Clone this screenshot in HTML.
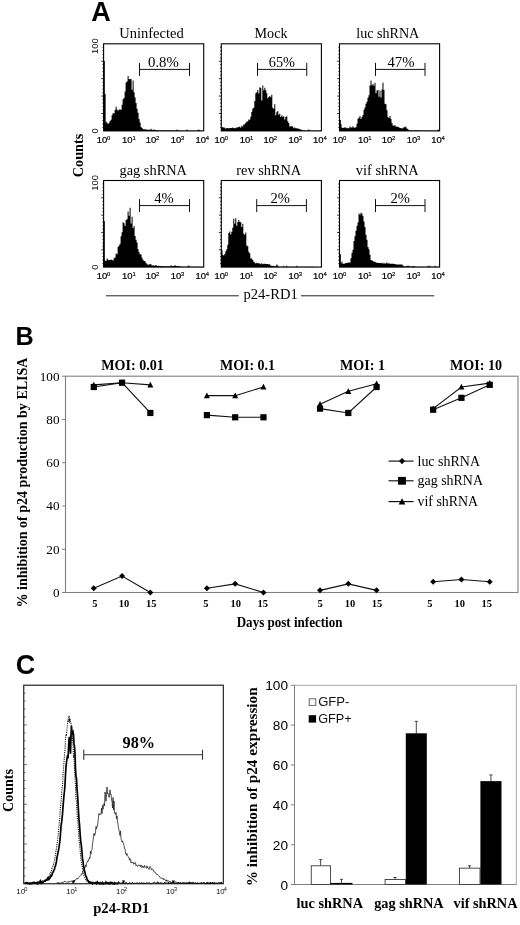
<!DOCTYPE html>
<html><head><meta charset="utf-8"><title>Figure</title>
<style>html,body{margin:0;padding:0;background:#fff;}svg{display:block;will-change:transform;filter:blur(0.3px);}</style></head>
<body>
<svg width="520" height="925" viewBox="0 0 520 925">
<rect width="520" height="925" fill="#fff"/>
<text x="91.3" y="20.8" font-family="Liberation Sans, sans-serif" font-size="27" font-weight="bold">A</text>
<path d="M103.60,130.90L103.60,130.90L104.60,130.90L104.60,122.49L105.60,122.49L105.60,121.40L106.60,121.40L106.60,122.71L107.60,122.71L107.60,124.12L108.60,124.12L108.60,122.79L109.60,122.79L109.60,121.12L110.60,121.12L110.60,119.87L111.60,119.87L111.60,115.23L112.60,115.23L112.60,113.09L113.60,113.09L113.60,113.61L114.60,113.61L114.60,109.97L115.60,109.97L115.60,106.77L116.60,106.77L116.60,109.47L117.60,109.47L117.60,110.76L118.60,110.76L118.60,109.58L119.60,109.58L119.60,109.59L120.60,109.59L120.60,109.78L121.60,109.78L121.60,104.79L122.60,104.79L122.60,99.31L123.60,99.31L123.60,97.92L124.60,97.92L124.60,91.58L125.60,91.58L125.60,82.58L126.60,82.58L126.60,81.49L127.60,81.49L127.60,76.01L128.60,76.01L128.60,79.08L129.60,79.08L129.60,79.13L130.60,79.13L130.60,78.95L131.60,78.95L131.60,89.77L132.60,89.77L132.60,80.56L133.60,80.56L133.60,92.35L134.60,92.35L134.60,97.48L135.60,97.48L135.60,103.01L136.60,103.01L136.60,108.68L137.60,108.68L137.60,112.64L138.60,112.64L138.60,119.09L139.60,119.09L139.60,122.54L140.60,122.54L140.60,126.98L141.60,126.98L141.60,127.88L142.60,127.88L142.60,128.88L143.60,128.88L143.60,129.49L144.60,129.49L144.60,129.05L145.60,129.05L145.60,129.80L146.60,129.80L146.60,129.53L147.60,129.53L147.60,129.69L148.60,129.69L148.60,129.75L149.60,129.75L149.60,129.74L150.60,129.74L150.60,128.74L151.60,128.74L151.60,130.15L152.60,130.15L152.60,129.76L153.60,129.76L153.60,129.58L154.60,129.58L154.60,130.00L155.60,130.00L155.60,130.22L156.60,130.22L156.60,130.32L157.60,130.32L157.60,130.32L158.60,130.32L158.60,130.47L159.60,130.47L159.60,130.51L160.60,130.51L160.60,130.54L161.60,130.54L161.60,130.53L162.60,130.53L162.60,130.58L163.60,130.58L163.60,130.60L164.60,130.60L164.60,130.62L165.60,130.62L165.60,130.57L166.60,130.57L166.60,130.62L167.60,130.62L167.60,130.61L168.60,130.61L168.60,130.59L169.60,130.59L169.60,130.60L170.60,130.60L170.60,130.61L171.60,130.61L171.60,130.60L172.60,130.60L172.60,130.64L173.60,130.64L173.60,130.61L174.60,130.61L174.60,130.65L175.60,130.65L175.60,130.62L176.60,130.62L176.60,129.60L177.60,129.60L177.60,130.61L178.60,130.61L178.60,130.62L179.60,130.62L179.60,130.64L180.60,130.64L180.60,130.62L181.60,130.62L181.60,130.65L182.60,130.65L182.60,130.65L183.60,130.65L183.60,130.63L184.60,130.63L184.60,130.66L185.60,130.66L185.60,130.66L186.60,130.66L186.60,129.61L187.60,129.61L187.60,130.67L188.60,130.67L188.60,130.68L189.60,130.68L189.60,130.66L190.60,130.66L190.60,130.66L191.60,130.66L191.60,130.66L192.60,130.66L192.60,130.66L193.60,130.66L193.60,130.65L194.60,130.65L194.60,130.66L195.60,130.66L195.60,130.67L196.60,130.67L196.60,130.68L197.60,130.68L197.60,129.65L198.60,129.65L198.60,129.66L199.60,129.66L199.60,130.68L200.60,130.68L200.60,130.69L201.60,130.69L201.60,130.70L202.60,130.70L202.60,130.69L203.60,130.69L203.60,130.69L204.60,130.69L203.70,130.90Z" fill="#000"/>
<rect x="103.60" y="60.90" width="1.2" height="70" fill="#000"/>
<rect x="103.60" y="93.90" width="2" height="37" fill="#000"/>
<rect x="103.6" y="43.8" width="100.10" height="87.10" fill="none" stroke="#000" stroke-width="1.1"/>
<line x1="102.39999999999999" y1="127.42" x2="103.6" y2="127.42" stroke="#000" stroke-width="0.8"/>
<line x1="102.39999999999999" y1="123.93" x2="103.6" y2="123.93" stroke="#000" stroke-width="0.8"/>
<line x1="102.39999999999999" y1="120.45" x2="103.6" y2="120.45" stroke="#000" stroke-width="0.8"/>
<line x1="102.39999999999999" y1="116.96" x2="103.6" y2="116.96" stroke="#000" stroke-width="0.8"/>
<line x1="101.19999999999999" y1="113.48" x2="103.6" y2="113.48" stroke="#000" stroke-width="0.8"/>
<line x1="102.39999999999999" y1="110.00" x2="103.6" y2="110.00" stroke="#000" stroke-width="0.8"/>
<line x1="102.39999999999999" y1="106.51" x2="103.6" y2="106.51" stroke="#000" stroke-width="0.8"/>
<line x1="102.39999999999999" y1="103.03" x2="103.6" y2="103.03" stroke="#000" stroke-width="0.8"/>
<line x1="102.39999999999999" y1="99.54" x2="103.6" y2="99.54" stroke="#000" stroke-width="0.8"/>
<line x1="101.19999999999999" y1="96.06" x2="103.6" y2="96.06" stroke="#000" stroke-width="0.8"/>
<line x1="102.39999999999999" y1="92.58" x2="103.6" y2="92.58" stroke="#000" stroke-width="0.8"/>
<line x1="102.39999999999999" y1="89.09" x2="103.6" y2="89.09" stroke="#000" stroke-width="0.8"/>
<line x1="102.39999999999999" y1="85.61" x2="103.6" y2="85.61" stroke="#000" stroke-width="0.8"/>
<line x1="102.39999999999999" y1="82.12" x2="103.6" y2="82.12" stroke="#000" stroke-width="0.8"/>
<line x1="101.19999999999999" y1="78.64" x2="103.6" y2="78.64" stroke="#000" stroke-width="0.8"/>
<line x1="102.39999999999999" y1="75.16" x2="103.6" y2="75.16" stroke="#000" stroke-width="0.8"/>
<line x1="102.39999999999999" y1="71.67" x2="103.6" y2="71.67" stroke="#000" stroke-width="0.8"/>
<line x1="102.39999999999999" y1="68.19" x2="103.6" y2="68.19" stroke="#000" stroke-width="0.8"/>
<line x1="102.39999999999999" y1="64.70" x2="103.6" y2="64.70" stroke="#000" stroke-width="0.8"/>
<line x1="101.19999999999999" y1="61.22" x2="103.6" y2="61.22" stroke="#000" stroke-width="0.8"/>
<line x1="102.39999999999999" y1="57.74" x2="103.6" y2="57.74" stroke="#000" stroke-width="0.8"/>
<line x1="102.39999999999999" y1="54.25" x2="103.6" y2="54.25" stroke="#000" stroke-width="0.8"/>
<line x1="102.39999999999999" y1="50.77" x2="103.6" y2="50.77" stroke="#000" stroke-width="0.8"/>
<line x1="102.39999999999999" y1="47.28" x2="103.6" y2="47.28" stroke="#000" stroke-width="0.8"/>
<text x="119.25" y="38.1" font-family="Liberation Serif, serif" font-size="14.5" textLength="64.5" lengthAdjust="spacingAndGlyphs">Uninfected</text>
<path d="M139.5,62.900000000000006V75.9M189.5,62.900000000000006V75.9M139.5,69.4H189.5" stroke="#111" stroke-width="1" fill="none"/>
<text x="148" y="67" font-family="Liberation Serif, serif" font-size="14.5" textLength="30.8" lengthAdjust="spacingAndGlyphs">0.8%</text>
<text x="96.8" y="143.1" font-family="Liberation Sans, sans-serif" font-size="8.6" textLength="10.5" lengthAdjust="spacingAndGlyphs" stroke="#000" stroke-width="0.2">10</text>
<text x="107.1" y="139.70000000000002" font-family="Liberation Sans, sans-serif" font-size="5.9" stroke="#000" stroke-width="0.15">0</text>
<text x="122.12" y="143.1" font-family="Liberation Sans, sans-serif" font-size="8.6" textLength="10.5" lengthAdjust="spacingAndGlyphs" stroke="#000" stroke-width="0.2">10</text>
<text x="132.43" y="139.70000000000002" font-family="Liberation Sans, sans-serif" font-size="5.9" stroke="#000" stroke-width="0.15">1</text>
<text x="145.75" y="143.1" font-family="Liberation Sans, sans-serif" font-size="8.6" textLength="10.5" lengthAdjust="spacingAndGlyphs" stroke="#000" stroke-width="0.2">10</text>
<text x="156.05" y="139.70000000000002" font-family="Liberation Sans, sans-serif" font-size="5.9" stroke="#000" stroke-width="0.15">2</text>
<text x="170.77" y="143.1" font-family="Liberation Sans, sans-serif" font-size="8.6" textLength="10.5" lengthAdjust="spacingAndGlyphs" stroke="#000" stroke-width="0.2">10</text>
<text x="181.07" y="139.70000000000002" font-family="Liberation Sans, sans-serif" font-size="5.9" stroke="#000" stroke-width="0.15">3</text>
<text x="195.4" y="143.1" font-family="Liberation Sans, sans-serif" font-size="8.6" textLength="10.5" lengthAdjust="spacingAndGlyphs" stroke="#000" stroke-width="0.2">10</text>
<text x="205.7" y="139.70000000000002" font-family="Liberation Sans, sans-serif" font-size="5.9" stroke="#000" stroke-width="0.15">4</text>
<path d="M221.30,130.90L221.30,127.20L222.30,127.20L222.30,127.27L223.30,127.27L223.30,127.47L224.30,127.47L224.30,127.64L225.30,127.64L225.30,128.66L226.30,128.66L226.30,128.00L227.30,128.00L227.30,127.92L228.30,127.92L228.30,128.51L229.30,128.51L229.30,127.88L230.30,127.88L230.30,127.93L231.30,127.93L231.30,128.02L232.30,128.02L232.30,127.44L233.30,127.44L233.30,128.33L234.30,128.33L234.30,127.89L235.30,127.89L235.30,128.37L236.30,128.37L236.30,127.14L237.30,127.14L237.30,127.59L238.30,127.59L238.30,127.11L239.30,127.11L239.30,126.47L240.30,126.47L240.30,127.78L241.30,127.78L241.30,125.73L242.30,125.73L242.30,126.51L243.30,126.51L243.30,124.50L244.30,124.50L244.30,124.20L245.30,124.20L245.30,122.76L246.30,122.76L246.30,121.74L247.30,121.74L247.30,121.32L248.30,121.32L248.30,119.62L249.30,119.62L249.30,119.85L250.30,119.85L250.30,116.83L251.30,116.83L251.30,111.96L252.30,111.96L252.30,108.50L253.30,108.50L253.30,107.85L254.30,107.85L254.30,101.12L255.30,101.12L255.30,93.16L256.30,93.16L256.30,92.35L257.30,92.35L257.30,89.99L258.30,89.99L258.30,93.47L259.30,93.47L259.30,87.37L260.30,87.37L260.30,87.98L261.30,87.98L261.30,100.52L262.30,100.52L262.30,85.60L263.30,85.60L263.30,90.19L264.30,90.19L264.30,87.81L265.30,87.81L265.30,90.21L266.30,90.21L266.30,93.26L267.30,93.26L267.30,98.20L268.30,98.20L268.30,97.07L269.30,97.07L269.30,95.97L270.30,95.97L270.30,97.15L271.30,97.15L271.30,94.63L272.30,94.63L272.30,107.76L273.30,107.76L273.30,108.63L274.30,108.63L274.30,104.29L275.30,104.29L275.30,115.19L276.30,115.19L276.30,112.30L277.30,112.30L277.30,111.02L278.30,111.02L278.30,114.71L279.30,114.71L279.30,113.79L280.30,113.79L280.30,117.02L281.30,117.02L281.30,115.46L282.30,115.46L282.30,116.65L283.30,116.65L283.30,116.18L284.30,116.18L284.30,119.59L285.30,119.59L285.30,117.09L286.30,117.09L286.30,116.24L287.30,116.24L287.30,121.24L288.30,121.24L288.30,123.03L289.30,123.03L289.30,126.55L290.30,126.55L290.30,126.18L291.30,126.18L291.30,126.08L292.30,126.08L292.30,126.82L293.30,126.82L293.30,128.18L294.30,128.18L294.30,127.60L295.30,127.60L295.30,128.26L296.30,128.26L296.30,128.19L297.30,128.19L297.30,128.48L298.30,128.48L298.30,128.65L299.30,128.65L299.30,129.23L300.30,129.23L300.30,129.49L301.30,129.49L301.30,129.82L302.30,129.82L302.30,130.60L303.30,130.60L303.30,130.62L304.30,130.62L304.30,130.62L305.30,130.62L305.30,130.56L306.30,130.56L306.30,130.70L307.30,130.70L307.30,130.58L308.30,130.58L308.30,129.59L309.30,129.59L309.30,130.61L310.30,130.61L310.30,130.63L311.30,130.63L311.30,130.66L312.30,130.66L312.30,130.69L313.30,130.69L313.30,130.64L314.30,130.64L314.30,130.72L315.30,130.72L315.30,130.65L316.30,130.65L316.30,130.69L317.30,130.69L317.30,130.76L318.30,130.76L318.30,130.75L319.30,130.75L319.30,130.75L320.30,130.75L320.30,130.70L321.30,130.70L321.30,130.71L322.30,130.71L321.40,130.90Z" fill="#000"/>
<rect x="221.3" y="43.8" width="100.10" height="87.10" fill="none" stroke="#000" stroke-width="1.1"/>
<line x1="220.10000000000002" y1="127.42" x2="221.3" y2="127.42" stroke="#000" stroke-width="0.8"/>
<line x1="220.10000000000002" y1="123.93" x2="221.3" y2="123.93" stroke="#000" stroke-width="0.8"/>
<line x1="220.10000000000002" y1="120.45" x2="221.3" y2="120.45" stroke="#000" stroke-width="0.8"/>
<line x1="220.10000000000002" y1="116.96" x2="221.3" y2="116.96" stroke="#000" stroke-width="0.8"/>
<line x1="218.9" y1="113.48" x2="221.3" y2="113.48" stroke="#000" stroke-width="0.8"/>
<line x1="220.10000000000002" y1="110.00" x2="221.3" y2="110.00" stroke="#000" stroke-width="0.8"/>
<line x1="220.10000000000002" y1="106.51" x2="221.3" y2="106.51" stroke="#000" stroke-width="0.8"/>
<line x1="220.10000000000002" y1="103.03" x2="221.3" y2="103.03" stroke="#000" stroke-width="0.8"/>
<line x1="220.10000000000002" y1="99.54" x2="221.3" y2="99.54" stroke="#000" stroke-width="0.8"/>
<line x1="218.9" y1="96.06" x2="221.3" y2="96.06" stroke="#000" stroke-width="0.8"/>
<line x1="220.10000000000002" y1="92.58" x2="221.3" y2="92.58" stroke="#000" stroke-width="0.8"/>
<line x1="220.10000000000002" y1="89.09" x2="221.3" y2="89.09" stroke="#000" stroke-width="0.8"/>
<line x1="220.10000000000002" y1="85.61" x2="221.3" y2="85.61" stroke="#000" stroke-width="0.8"/>
<line x1="220.10000000000002" y1="82.12" x2="221.3" y2="82.12" stroke="#000" stroke-width="0.8"/>
<line x1="218.9" y1="78.64" x2="221.3" y2="78.64" stroke="#000" stroke-width="0.8"/>
<line x1="220.10000000000002" y1="75.16" x2="221.3" y2="75.16" stroke="#000" stroke-width="0.8"/>
<line x1="220.10000000000002" y1="71.67" x2="221.3" y2="71.67" stroke="#000" stroke-width="0.8"/>
<line x1="220.10000000000002" y1="68.19" x2="221.3" y2="68.19" stroke="#000" stroke-width="0.8"/>
<line x1="220.10000000000002" y1="64.70" x2="221.3" y2="64.70" stroke="#000" stroke-width="0.8"/>
<line x1="218.9" y1="61.22" x2="221.3" y2="61.22" stroke="#000" stroke-width="0.8"/>
<line x1="220.10000000000002" y1="57.74" x2="221.3" y2="57.74" stroke="#000" stroke-width="0.8"/>
<line x1="220.10000000000002" y1="54.25" x2="221.3" y2="54.25" stroke="#000" stroke-width="0.8"/>
<line x1="220.10000000000002" y1="50.77" x2="221.3" y2="50.77" stroke="#000" stroke-width="0.8"/>
<line x1="220.10000000000002" y1="47.28" x2="221.3" y2="47.28" stroke="#000" stroke-width="0.8"/>
<text x="254.5" y="38.1" font-family="Liberation Serif, serif" font-size="14.5" textLength="33.0" lengthAdjust="spacingAndGlyphs">Mock</text>
<path d="M257.5,62.900000000000006V75.9M306.75,62.900000000000006V75.9M257.5,69.4H306.75" stroke="#111" stroke-width="1" fill="none"/>
<text x="268.75" y="67" font-family="Liberation Serif, serif" font-size="14.5" textLength="26.2" lengthAdjust="spacingAndGlyphs">65%</text>
<text x="214.5" y="143.1" font-family="Liberation Sans, sans-serif" font-size="8.6" textLength="10.5" lengthAdjust="spacingAndGlyphs" stroke="#000" stroke-width="0.2">10</text>
<text x="224.8" y="139.70000000000002" font-family="Liberation Sans, sans-serif" font-size="5.9" stroke="#000" stroke-width="0.15">0</text>
<text x="239.82" y="143.1" font-family="Liberation Sans, sans-serif" font-size="8.6" textLength="10.5" lengthAdjust="spacingAndGlyphs" stroke="#000" stroke-width="0.2">10</text>
<text x="250.12" y="139.70000000000002" font-family="Liberation Sans, sans-serif" font-size="5.9" stroke="#000" stroke-width="0.15">1</text>
<text x="263.45" y="143.1" font-family="Liberation Sans, sans-serif" font-size="8.6" textLength="10.5" lengthAdjust="spacingAndGlyphs" stroke="#000" stroke-width="0.2">10</text>
<text x="273.75" y="139.70000000000002" font-family="Liberation Sans, sans-serif" font-size="5.9" stroke="#000" stroke-width="0.15">2</text>
<text x="288.47" y="143.1" font-family="Liberation Sans, sans-serif" font-size="8.6" textLength="10.5" lengthAdjust="spacingAndGlyphs" stroke="#000" stroke-width="0.2">10</text>
<text x="298.77" y="139.70000000000002" font-family="Liberation Sans, sans-serif" font-size="5.9" stroke="#000" stroke-width="0.15">3</text>
<text x="313.1" y="143.1" font-family="Liberation Sans, sans-serif" font-size="8.6" textLength="10.5" lengthAdjust="spacingAndGlyphs" stroke="#000" stroke-width="0.2">10</text>
<text x="323.4" y="139.70000000000002" font-family="Liberation Sans, sans-serif" font-size="5.9" stroke="#000" stroke-width="0.15">4</text>
<path d="M339.50,130.90L339.50,120.30L340.50,120.30L340.50,124.05L341.50,124.05L341.50,127.86L342.50,127.86L342.50,127.72L343.50,127.72L343.50,127.98L344.50,127.98L344.50,126.96L345.50,126.96L345.50,128.28L346.50,128.28L346.50,127.63L347.50,127.63L347.50,128.31L348.50,128.31L348.50,128.21L349.50,128.21L349.50,126.42L350.50,126.42L350.50,127.47L351.50,127.47L351.50,127.61L352.50,127.61L352.50,126.29L353.50,126.29L353.50,127.73L354.50,127.73L354.50,127.53L355.50,127.53L355.50,127.23L356.50,127.23L356.50,123.65L357.50,123.65L357.50,118.81L358.50,118.81L358.50,117.70L359.50,117.70L359.50,115.88L360.50,115.88L360.50,119.05L361.50,119.05L361.50,116.98L362.50,116.98L362.50,114.97L363.50,114.97L363.50,109.71L364.50,109.71L364.50,107.46L365.50,107.46L365.50,103.68L366.50,103.68L366.50,101.80L367.50,101.80L367.50,97.77L368.50,97.77L368.50,95.31L369.50,95.31L369.50,85.53L370.50,85.53L370.50,80.41L371.50,80.41L371.50,85.30L372.50,85.30L372.50,83.89L373.50,83.89L373.50,85.78L374.50,85.78L374.50,82.83L375.50,82.83L375.50,93.20L376.50,93.20L376.50,90.44L377.50,90.44L377.50,90.06L378.50,90.06L378.50,96.72L379.50,96.72L379.50,90.39L380.50,90.39L380.50,97.50L381.50,97.50L381.50,89.38L382.50,89.38L382.50,82.77L383.50,82.77L383.50,90.05L384.50,90.05L384.50,103.75L385.50,103.75L385.50,104.35L386.50,104.35L386.50,110.26L387.50,110.26L387.50,117.09L388.50,117.09L388.50,118.10L389.50,118.10L389.50,116.01L390.50,116.01L390.50,118.98L391.50,118.98L391.50,122.88L392.50,122.88L392.50,125.51L393.50,125.51L393.50,125.70L394.50,125.70L394.50,124.92L395.50,124.92L395.50,126.88L396.50,126.88L396.50,126.31L397.50,126.31L397.50,127.00L398.50,127.00L398.50,127.37L399.50,127.37L399.50,128.12L400.50,128.12L400.50,127.92L401.50,127.92L401.50,128.64L402.50,128.64L402.50,127.68L403.50,127.68L403.50,127.50L404.50,127.50L404.50,126.44L405.50,126.44L405.50,127.22L406.50,127.22L406.50,128.49L407.50,128.49L407.50,129.37L408.50,129.37L408.50,130.52L409.50,130.52L409.50,130.54L410.50,130.54L410.50,130.44L411.50,130.44L411.50,130.47L412.50,130.47L412.50,130.57L413.50,130.57L413.50,130.53L414.50,130.53L414.50,130.57L415.50,130.57L415.50,130.58L416.50,130.58L416.50,130.56L417.50,130.56L417.50,130.52L418.50,130.52L418.50,130.56L419.50,130.56L419.50,130.54L420.50,130.54L420.50,130.65L421.50,130.65L421.50,130.64L422.50,130.64L422.50,130.64L423.50,130.64L423.50,130.63L424.50,130.63L424.50,130.62L425.50,130.62L425.50,130.65L426.50,130.65L426.50,130.66L427.50,130.66L427.50,130.62L428.50,130.62L428.50,130.70L429.50,130.70L429.50,130.63L430.50,130.63L430.50,130.70L431.50,130.70L431.50,130.61L432.50,130.61L432.50,130.71L433.50,130.71L433.50,130.70L434.50,130.70L434.50,130.67L435.50,130.67L435.50,130.73L436.50,130.73L436.50,130.71L437.50,130.71L437.50,129.70L438.50,129.70L438.50,129.63L439.50,129.63L439.50,130.65L440.50,130.65L439.60,130.90Z" fill="#000"/>
<rect x="339.50" y="119.90" width="1.2" height="11" fill="#000"/>
<rect x="339.5" y="43.8" width="100.10" height="87.10" fill="none" stroke="#000" stroke-width="1.1"/>
<line x1="338.3" y1="127.42" x2="339.5" y2="127.42" stroke="#000" stroke-width="0.8"/>
<line x1="338.3" y1="123.93" x2="339.5" y2="123.93" stroke="#000" stroke-width="0.8"/>
<line x1="338.3" y1="120.45" x2="339.5" y2="120.45" stroke="#000" stroke-width="0.8"/>
<line x1="338.3" y1="116.96" x2="339.5" y2="116.96" stroke="#000" stroke-width="0.8"/>
<line x1="337.1" y1="113.48" x2="339.5" y2="113.48" stroke="#000" stroke-width="0.8"/>
<line x1="338.3" y1="110.00" x2="339.5" y2="110.00" stroke="#000" stroke-width="0.8"/>
<line x1="338.3" y1="106.51" x2="339.5" y2="106.51" stroke="#000" stroke-width="0.8"/>
<line x1="338.3" y1="103.03" x2="339.5" y2="103.03" stroke="#000" stroke-width="0.8"/>
<line x1="338.3" y1="99.54" x2="339.5" y2="99.54" stroke="#000" stroke-width="0.8"/>
<line x1="337.1" y1="96.06" x2="339.5" y2="96.06" stroke="#000" stroke-width="0.8"/>
<line x1="338.3" y1="92.58" x2="339.5" y2="92.58" stroke="#000" stroke-width="0.8"/>
<line x1="338.3" y1="89.09" x2="339.5" y2="89.09" stroke="#000" stroke-width="0.8"/>
<line x1="338.3" y1="85.61" x2="339.5" y2="85.61" stroke="#000" stroke-width="0.8"/>
<line x1="338.3" y1="82.12" x2="339.5" y2="82.12" stroke="#000" stroke-width="0.8"/>
<line x1="337.1" y1="78.64" x2="339.5" y2="78.64" stroke="#000" stroke-width="0.8"/>
<line x1="338.3" y1="75.16" x2="339.5" y2="75.16" stroke="#000" stroke-width="0.8"/>
<line x1="338.3" y1="71.67" x2="339.5" y2="71.67" stroke="#000" stroke-width="0.8"/>
<line x1="338.3" y1="68.19" x2="339.5" y2="68.19" stroke="#000" stroke-width="0.8"/>
<line x1="338.3" y1="64.70" x2="339.5" y2="64.70" stroke="#000" stroke-width="0.8"/>
<line x1="337.1" y1="61.22" x2="339.5" y2="61.22" stroke="#000" stroke-width="0.8"/>
<line x1="338.3" y1="57.74" x2="339.5" y2="57.74" stroke="#000" stroke-width="0.8"/>
<line x1="338.3" y1="54.25" x2="339.5" y2="54.25" stroke="#000" stroke-width="0.8"/>
<line x1="338.3" y1="50.77" x2="339.5" y2="50.77" stroke="#000" stroke-width="0.8"/>
<line x1="338.3" y1="47.28" x2="339.5" y2="47.28" stroke="#000" stroke-width="0.8"/>
<text x="356.25" y="38.1" font-family="Liberation Serif, serif" font-size="14.5" textLength="63.0" lengthAdjust="spacingAndGlyphs">luc shRNA</text>
<path d="M375.5,62.900000000000006V75.9M425,62.900000000000006V75.9M375.5,69.4H425" stroke="#111" stroke-width="1" fill="none"/>
<text x="387.5" y="67" font-family="Liberation Serif, serif" font-size="14.5" textLength="27.0" lengthAdjust="spacingAndGlyphs">47%</text>
<text x="332.7" y="143.1" font-family="Liberation Sans, sans-serif" font-size="8.6" textLength="10.5" lengthAdjust="spacingAndGlyphs" stroke="#000" stroke-width="0.2">10</text>
<text x="343.0" y="139.70000000000002" font-family="Liberation Sans, sans-serif" font-size="5.9" stroke="#000" stroke-width="0.15">0</text>
<text x="358.02" y="143.1" font-family="Liberation Sans, sans-serif" font-size="8.6" textLength="10.5" lengthAdjust="spacingAndGlyphs" stroke="#000" stroke-width="0.2">10</text>
<text x="368.32" y="139.70000000000002" font-family="Liberation Sans, sans-serif" font-size="5.9" stroke="#000" stroke-width="0.15">1</text>
<text x="381.65" y="143.1" font-family="Liberation Sans, sans-serif" font-size="8.6" textLength="10.5" lengthAdjust="spacingAndGlyphs" stroke="#000" stroke-width="0.2">10</text>
<text x="391.95" y="139.70000000000002" font-family="Liberation Sans, sans-serif" font-size="5.9" stroke="#000" stroke-width="0.15">2</text>
<text x="406.68" y="143.1" font-family="Liberation Sans, sans-serif" font-size="8.6" textLength="10.5" lengthAdjust="spacingAndGlyphs" stroke="#000" stroke-width="0.2">10</text>
<text x="416.98" y="139.70000000000002" font-family="Liberation Sans, sans-serif" font-size="5.9" stroke="#000" stroke-width="0.15">3</text>
<text x="431.3" y="143.1" font-family="Liberation Sans, sans-serif" font-size="8.6" textLength="10.5" lengthAdjust="spacingAndGlyphs" stroke="#000" stroke-width="0.2">10</text>
<text x="441.6" y="139.70000000000002" font-family="Liberation Sans, sans-serif" font-size="5.9" stroke="#000" stroke-width="0.15">4</text>
<text x="97.6" y="53.95" font-family="Liberation Sans, sans-serif" font-size="8.2" textLength="15.6" lengthAdjust="spacingAndGlyphs" transform="rotate(-90 97.6 53.95)">100</text>
<text x="97.6" y="133.5" font-family="Liberation Sans, sans-serif" font-size="8.2" textLength="5.2" lengthAdjust="spacingAndGlyphs" transform="rotate(-90 97.6 133.5)">0</text>
<path d="M103.60,267.10L103.60,260.41L104.60,260.41L104.60,260.43L105.60,260.43L105.60,261.10L106.60,261.10L106.60,258.60L107.60,258.60L107.60,259.66L108.60,259.66L108.60,260.31L109.60,260.31L109.60,259.95L110.60,259.95L110.60,259.44L111.60,259.44L111.60,260.01L112.60,260.01L112.60,260.45L113.60,260.45L113.60,258.33L114.60,258.33L114.60,257.56L115.60,257.56L115.60,253.43L116.60,253.43L116.60,254.28L117.60,254.28L117.60,246.97L118.60,246.97L118.60,245.60L119.60,245.60L119.60,243.79L120.60,243.79L120.60,236.20L121.60,236.20L121.60,232.21L122.60,232.21L122.60,222.13L123.60,222.13L123.60,223.24L124.60,223.24L124.60,226.09L125.60,226.09L125.60,219.94L126.60,219.94L126.60,219.26L127.60,219.26L127.60,211.48L128.60,211.48L128.60,215.73L129.60,215.73L129.60,207.87L130.60,207.87L130.60,223.48L131.60,223.48L131.60,216.66L132.60,216.66L132.60,228.08L133.60,228.08L133.60,226.07L134.60,226.07L134.60,236.05L135.60,236.05L135.60,239.83L136.60,239.83L136.60,242.43L137.60,242.43L137.60,249.23L138.60,249.23L138.60,252.36L139.60,252.36L139.60,254.31L140.60,254.31L140.60,254.42L141.60,254.42L141.60,257.85L142.60,257.85L142.60,259.80L143.60,259.80L143.60,260.93L144.60,260.93L144.60,261.35L145.60,261.35L145.60,262.97L146.60,262.97L146.60,264.35L147.60,264.35L147.60,264.78L148.60,264.78L148.60,264.54L149.60,264.54L149.60,264.36L150.60,264.36L150.60,264.29L151.60,264.29L151.60,265.69L152.60,265.69L152.60,265.01L153.60,265.01L153.60,265.78L154.60,265.78L154.60,265.39L155.60,265.39L155.60,265.12L156.60,265.12L156.60,266.11L157.60,266.11L157.60,265.82L158.60,265.82L158.60,265.85L159.60,265.85L159.60,266.28L160.60,266.28L160.60,266.12L161.60,266.12L161.60,266.08L162.60,266.08L162.60,266.47L163.60,266.47L163.60,266.05L164.60,266.05L164.60,266.51L165.60,266.51L165.60,266.36L166.60,266.36L166.60,266.14L167.60,266.14L167.60,266.20L168.60,266.20L168.60,266.33L169.60,266.33L169.60,266.60L170.60,266.60L170.60,265.13L171.60,265.13L171.60,266.10L172.60,266.10L172.60,266.15L173.60,266.15L173.60,265.78L174.60,265.78L174.60,265.35L175.60,265.35L175.60,266.10L176.60,266.10L176.60,266.36L177.60,266.36L177.60,265.83L178.60,265.83L178.60,266.38L179.60,266.38L179.60,266.26L180.60,266.26L180.60,266.55L181.60,266.55L181.60,266.71L182.60,266.71L182.60,266.74L183.60,266.74L183.60,266.75L184.60,266.75L184.60,266.75L185.60,266.75L185.60,266.79L186.60,266.79L186.60,266.73L187.60,266.73L187.60,265.74L188.60,265.74L188.60,265.73L189.60,265.73L189.60,266.75L190.60,266.75L190.60,266.79L191.60,266.79L191.60,266.78L192.60,266.78L192.60,266.80L193.60,266.80L193.60,266.85L194.60,266.85L194.60,266.84L195.60,266.84L195.60,266.81L196.60,266.81L196.60,266.82L197.60,266.82L197.60,266.86L198.60,266.86L198.60,266.87L199.60,266.87L199.60,266.86L200.60,266.86L200.60,266.85L201.60,266.85L201.60,266.87L202.60,266.87L202.60,266.89L203.60,266.89L203.60,266.88L204.60,266.88L203.70,267.10Z" fill="#000"/>
<rect x="103.60" y="221.10" width="1.2" height="46" fill="#000"/>
<rect x="103.6" y="180.5" width="100.10" height="86.60" fill="none" stroke="#000" stroke-width="1.1"/>
<line x1="102.39999999999999" y1="263.64" x2="103.6" y2="263.64" stroke="#000" stroke-width="0.8"/>
<line x1="102.39999999999999" y1="260.17" x2="103.6" y2="260.17" stroke="#000" stroke-width="0.8"/>
<line x1="102.39999999999999" y1="256.71" x2="103.6" y2="256.71" stroke="#000" stroke-width="0.8"/>
<line x1="102.39999999999999" y1="253.24" x2="103.6" y2="253.24" stroke="#000" stroke-width="0.8"/>
<line x1="101.19999999999999" y1="249.78" x2="103.6" y2="249.78" stroke="#000" stroke-width="0.8"/>
<line x1="102.39999999999999" y1="246.32" x2="103.6" y2="246.32" stroke="#000" stroke-width="0.8"/>
<line x1="102.39999999999999" y1="242.85" x2="103.6" y2="242.85" stroke="#000" stroke-width="0.8"/>
<line x1="102.39999999999999" y1="239.39" x2="103.6" y2="239.39" stroke="#000" stroke-width="0.8"/>
<line x1="102.39999999999999" y1="235.92" x2="103.6" y2="235.92" stroke="#000" stroke-width="0.8"/>
<line x1="101.19999999999999" y1="232.46" x2="103.6" y2="232.46" stroke="#000" stroke-width="0.8"/>
<line x1="102.39999999999999" y1="229.00" x2="103.6" y2="229.00" stroke="#000" stroke-width="0.8"/>
<line x1="102.39999999999999" y1="225.53" x2="103.6" y2="225.53" stroke="#000" stroke-width="0.8"/>
<line x1="102.39999999999999" y1="222.07" x2="103.6" y2="222.07" stroke="#000" stroke-width="0.8"/>
<line x1="102.39999999999999" y1="218.60" x2="103.6" y2="218.60" stroke="#000" stroke-width="0.8"/>
<line x1="101.19999999999999" y1="215.14" x2="103.6" y2="215.14" stroke="#000" stroke-width="0.8"/>
<line x1="102.39999999999999" y1="211.68" x2="103.6" y2="211.68" stroke="#000" stroke-width="0.8"/>
<line x1="102.39999999999999" y1="208.21" x2="103.6" y2="208.21" stroke="#000" stroke-width="0.8"/>
<line x1="102.39999999999999" y1="204.75" x2="103.6" y2="204.75" stroke="#000" stroke-width="0.8"/>
<line x1="102.39999999999999" y1="201.28" x2="103.6" y2="201.28" stroke="#000" stroke-width="0.8"/>
<line x1="101.19999999999999" y1="197.82" x2="103.6" y2="197.82" stroke="#000" stroke-width="0.8"/>
<line x1="102.39999999999999" y1="194.36" x2="103.6" y2="194.36" stroke="#000" stroke-width="0.8"/>
<line x1="102.39999999999999" y1="190.89" x2="103.6" y2="190.89" stroke="#000" stroke-width="0.8"/>
<line x1="102.39999999999999" y1="187.43" x2="103.6" y2="187.43" stroke="#000" stroke-width="0.8"/>
<line x1="102.39999999999999" y1="183.96" x2="103.6" y2="183.96" stroke="#000" stroke-width="0.8"/>
<text x="119.5" y="175.3" font-family="Liberation Serif, serif" font-size="14.5" textLength="67.5" lengthAdjust="spacingAndGlyphs">gag shRNA</text>
<path d="M139.5,199.1V212.1M189.5,199.1V212.1M139.5,205.6H189.5" stroke="#111" stroke-width="1" fill="none"/>
<text x="154.25" y="203.0" font-family="Liberation Serif, serif" font-size="14.5" textLength="19.5" lengthAdjust="spacingAndGlyphs">4%</text>
<text x="96.8" y="279.3" font-family="Liberation Sans, sans-serif" font-size="8.6" textLength="10.5" lengthAdjust="spacingAndGlyphs" stroke="#000" stroke-width="0.2">10</text>
<text x="107.1" y="275.90000000000003" font-family="Liberation Sans, sans-serif" font-size="5.9" stroke="#000" stroke-width="0.15">0</text>
<text x="122.12" y="279.3" font-family="Liberation Sans, sans-serif" font-size="8.6" textLength="10.5" lengthAdjust="spacingAndGlyphs" stroke="#000" stroke-width="0.2">10</text>
<text x="132.43" y="275.90000000000003" font-family="Liberation Sans, sans-serif" font-size="5.9" stroke="#000" stroke-width="0.15">1</text>
<text x="145.75" y="279.3" font-family="Liberation Sans, sans-serif" font-size="8.6" textLength="10.5" lengthAdjust="spacingAndGlyphs" stroke="#000" stroke-width="0.2">10</text>
<text x="156.05" y="275.90000000000003" font-family="Liberation Sans, sans-serif" font-size="5.9" stroke="#000" stroke-width="0.15">2</text>
<text x="170.77" y="279.3" font-family="Liberation Sans, sans-serif" font-size="8.6" textLength="10.5" lengthAdjust="spacingAndGlyphs" stroke="#000" stroke-width="0.2">10</text>
<text x="181.07" y="275.90000000000003" font-family="Liberation Sans, sans-serif" font-size="5.9" stroke="#000" stroke-width="0.15">3</text>
<text x="195.4" y="279.3" font-family="Liberation Sans, sans-serif" font-size="8.6" textLength="10.5" lengthAdjust="spacingAndGlyphs" stroke="#000" stroke-width="0.2">10</text>
<text x="205.7" y="275.90000000000003" font-family="Liberation Sans, sans-serif" font-size="5.9" stroke="#000" stroke-width="0.15">4</text>
<path d="M221.30,267.10L221.30,254.10L222.30,254.10L222.30,255.08L223.30,255.08L223.30,255.61L224.30,255.61L224.30,253.89L225.30,253.89L225.30,251.20L226.30,251.20L226.30,249.13L227.30,249.13L227.30,244.70L228.30,244.70L228.30,232.95L229.30,232.95L229.30,231.41L230.30,231.41L230.30,234.52L231.30,234.52L231.30,231.64L232.30,231.64L232.30,227.69L233.30,227.69L233.30,218.74L234.30,218.74L234.30,223.73L235.30,223.73L235.30,218.29L236.30,218.29L236.30,225.86L237.30,225.86L237.30,222.12L238.30,222.12L238.30,219.89L239.30,219.89L239.30,221.92L240.30,221.92L240.30,222.30L241.30,222.30L241.30,227.01L242.30,227.01L242.30,223.71L243.30,223.71L243.30,233.76L244.30,233.76L244.30,234.76L245.30,234.76L245.30,232.39L246.30,232.39L246.30,245.45L247.30,245.45L247.30,246.24L248.30,246.24L248.30,251.65L249.30,251.65L249.30,253.43L250.30,253.43L250.30,258.62L251.30,258.62L251.30,258.44L252.30,258.44L252.30,259.89L253.30,259.89L253.30,261.69L254.30,261.69L254.30,262.50L255.30,262.50L255.30,263.47L256.30,263.47L256.30,262.69L257.30,262.69L257.30,263.23L258.30,263.23L258.30,263.23L259.30,263.23L259.30,263.55L260.30,263.55L260.30,264.17L261.30,264.17L261.30,263.15L262.30,263.15L262.30,264.15L263.30,264.15L263.30,263.70L264.30,263.70L264.30,263.76L265.30,263.76L265.30,264.11L266.30,264.11L266.30,264.07L267.30,264.07L267.30,263.93L268.30,263.93L268.30,264.47L269.30,264.47L269.30,264.31L270.30,264.31L270.30,265.64L271.30,265.64L271.30,265.81L272.30,265.81L272.30,265.94L273.30,265.94L273.30,265.81L274.30,265.81L274.30,266.30L275.30,266.30L275.30,266.32L276.30,266.32L276.30,264.43L277.30,264.43L277.30,265.62L278.30,265.62L278.30,266.66L279.30,266.66L279.30,266.66L280.30,266.66L280.30,266.66L281.30,266.66L281.30,266.71L282.30,266.71L282.30,266.73L283.30,266.73L283.30,265.70L284.30,265.70L284.30,266.75L285.30,266.75L285.30,266.73L286.30,266.73L286.30,265.71L287.30,265.71L287.30,266.76L288.30,266.76L288.30,266.72L289.30,266.72L289.30,266.74L290.30,266.74L290.30,266.73L291.30,266.73L291.30,266.78L292.30,266.78L292.30,266.78L293.30,266.78L293.30,266.79L294.30,266.79L294.30,266.82L295.30,266.82L295.30,266.80L296.30,266.80L296.30,265.78L297.30,265.78L297.30,266.76L298.30,266.76L298.30,266.82L299.30,266.82L299.30,266.79L300.30,266.79L300.30,266.77L301.30,266.77L301.30,266.80L302.30,266.80L302.30,266.82L303.30,266.82L303.30,266.78L304.30,266.78L304.30,266.80L305.30,266.80L305.30,266.83L306.30,266.83L306.30,266.84L307.30,266.84L307.30,266.83L308.30,266.83L308.30,266.85L309.30,266.85L309.30,266.84L310.30,266.84L310.30,266.85L311.30,266.85L311.30,266.85L312.30,266.85L312.30,266.84L313.30,266.84L313.30,266.85L314.30,266.85L314.30,266.85L315.30,266.85L315.30,266.88L316.30,266.88L316.30,266.86L317.30,266.86L317.30,266.86L318.30,266.86L318.30,266.91L319.30,266.91L319.30,266.89L320.30,266.89L320.30,266.86L321.30,266.86L321.30,266.87L322.30,266.87L321.40,267.10Z" fill="#000"/>
<rect x="221.30" y="250.10" width="1.2" height="17" fill="#000"/>
<rect x="221.3" y="180.5" width="100.10" height="86.60" fill="none" stroke="#000" stroke-width="1.1"/>
<line x1="220.10000000000002" y1="263.64" x2="221.3" y2="263.64" stroke="#000" stroke-width="0.8"/>
<line x1="220.10000000000002" y1="260.17" x2="221.3" y2="260.17" stroke="#000" stroke-width="0.8"/>
<line x1="220.10000000000002" y1="256.71" x2="221.3" y2="256.71" stroke="#000" stroke-width="0.8"/>
<line x1="220.10000000000002" y1="253.24" x2="221.3" y2="253.24" stroke="#000" stroke-width="0.8"/>
<line x1="218.9" y1="249.78" x2="221.3" y2="249.78" stroke="#000" stroke-width="0.8"/>
<line x1="220.10000000000002" y1="246.32" x2="221.3" y2="246.32" stroke="#000" stroke-width="0.8"/>
<line x1="220.10000000000002" y1="242.85" x2="221.3" y2="242.85" stroke="#000" stroke-width="0.8"/>
<line x1="220.10000000000002" y1="239.39" x2="221.3" y2="239.39" stroke="#000" stroke-width="0.8"/>
<line x1="220.10000000000002" y1="235.92" x2="221.3" y2="235.92" stroke="#000" stroke-width="0.8"/>
<line x1="218.9" y1="232.46" x2="221.3" y2="232.46" stroke="#000" stroke-width="0.8"/>
<line x1="220.10000000000002" y1="229.00" x2="221.3" y2="229.00" stroke="#000" stroke-width="0.8"/>
<line x1="220.10000000000002" y1="225.53" x2="221.3" y2="225.53" stroke="#000" stroke-width="0.8"/>
<line x1="220.10000000000002" y1="222.07" x2="221.3" y2="222.07" stroke="#000" stroke-width="0.8"/>
<line x1="220.10000000000002" y1="218.60" x2="221.3" y2="218.60" stroke="#000" stroke-width="0.8"/>
<line x1="218.9" y1="215.14" x2="221.3" y2="215.14" stroke="#000" stroke-width="0.8"/>
<line x1="220.10000000000002" y1="211.68" x2="221.3" y2="211.68" stroke="#000" stroke-width="0.8"/>
<line x1="220.10000000000002" y1="208.21" x2="221.3" y2="208.21" stroke="#000" stroke-width="0.8"/>
<line x1="220.10000000000002" y1="204.75" x2="221.3" y2="204.75" stroke="#000" stroke-width="0.8"/>
<line x1="220.10000000000002" y1="201.28" x2="221.3" y2="201.28" stroke="#000" stroke-width="0.8"/>
<line x1="218.9" y1="197.82" x2="221.3" y2="197.82" stroke="#000" stroke-width="0.8"/>
<line x1="220.10000000000002" y1="194.36" x2="221.3" y2="194.36" stroke="#000" stroke-width="0.8"/>
<line x1="220.10000000000002" y1="190.89" x2="221.3" y2="190.89" stroke="#000" stroke-width="0.8"/>
<line x1="220.10000000000002" y1="187.43" x2="221.3" y2="187.43" stroke="#000" stroke-width="0.8"/>
<line x1="220.10000000000002" y1="183.96" x2="221.3" y2="183.96" stroke="#000" stroke-width="0.8"/>
<text x="236.25" y="175.3" font-family="Liberation Serif, serif" font-size="14.5" textLength="65.0" lengthAdjust="spacingAndGlyphs">rev shRNA</text>
<path d="M256.7,199.1V212.1M306.4,199.1V212.1M256.7,205.6H306.4" stroke="#111" stroke-width="1" fill="none"/>
<text x="270.5" y="203.0" font-family="Liberation Serif, serif" font-size="14.5" textLength="19.5" lengthAdjust="spacingAndGlyphs">2%</text>
<text x="214.5" y="279.3" font-family="Liberation Sans, sans-serif" font-size="8.6" textLength="10.5" lengthAdjust="spacingAndGlyphs" stroke="#000" stroke-width="0.2">10</text>
<text x="224.8" y="275.90000000000003" font-family="Liberation Sans, sans-serif" font-size="5.9" stroke="#000" stroke-width="0.15">0</text>
<text x="239.82" y="279.3" font-family="Liberation Sans, sans-serif" font-size="8.6" textLength="10.5" lengthAdjust="spacingAndGlyphs" stroke="#000" stroke-width="0.2">10</text>
<text x="250.12" y="275.90000000000003" font-family="Liberation Sans, sans-serif" font-size="5.9" stroke="#000" stroke-width="0.15">1</text>
<text x="263.45" y="279.3" font-family="Liberation Sans, sans-serif" font-size="8.6" textLength="10.5" lengthAdjust="spacingAndGlyphs" stroke="#000" stroke-width="0.2">10</text>
<text x="273.75" y="275.90000000000003" font-family="Liberation Sans, sans-serif" font-size="5.9" stroke="#000" stroke-width="0.15">2</text>
<text x="288.47" y="279.3" font-family="Liberation Sans, sans-serif" font-size="8.6" textLength="10.5" lengthAdjust="spacingAndGlyphs" stroke="#000" stroke-width="0.2">10</text>
<text x="298.77" y="275.90000000000003" font-family="Liberation Sans, sans-serif" font-size="5.9" stroke="#000" stroke-width="0.15">3</text>
<text x="313.1" y="279.3" font-family="Liberation Sans, sans-serif" font-size="8.6" textLength="10.5" lengthAdjust="spacingAndGlyphs" stroke="#000" stroke-width="0.2">10</text>
<text x="323.4" y="275.90000000000003" font-family="Liberation Sans, sans-serif" font-size="5.9" stroke="#000" stroke-width="0.15">4</text>
<path d="M339.50,267.10L339.50,254.87L340.50,254.87L340.50,263.22L341.50,263.22L341.50,261.55L342.50,261.55L342.50,263.64L343.50,263.64L343.50,263.70L344.50,263.70L344.50,263.55L345.50,263.55L345.50,262.94L346.50,262.94L346.50,262.74L347.50,262.74L347.50,262.87L348.50,262.87L348.50,262.52L349.50,262.52L349.50,262.44L350.50,262.44L350.50,258.32L351.50,258.32L351.50,252.97L352.50,252.97L352.50,249.64L353.50,249.64L353.50,241.06L354.50,241.06L354.50,236.32L355.50,236.32L355.50,230.66L356.50,230.66L356.50,225.97L357.50,225.97L357.50,222.55L358.50,222.55L358.50,213.38L359.50,213.38L359.50,214.66L360.50,214.66L360.50,212.80L361.50,212.80L361.50,213.81L362.50,213.81L362.50,216.22L363.50,216.22L363.50,221.57L364.50,221.57L364.50,227.03L365.50,227.03L365.50,234.84L366.50,234.84L366.50,239.86L367.50,239.86L367.50,246.94L368.50,246.94L368.50,249.33L369.50,249.33L369.50,254.80L370.50,254.80L370.50,259.91L371.50,259.91L371.50,260.38L372.50,260.38L372.50,260.94L373.50,260.94L373.50,261.74L374.50,261.74L374.50,261.67L375.50,261.67L375.50,262.40L376.50,262.40L376.50,262.83L377.50,262.83L377.50,263.09L378.50,263.09L378.50,263.06L379.50,263.06L379.50,263.08L380.50,263.08L380.50,263.30L381.50,263.30L381.50,262.83L382.50,262.83L382.50,263.69L383.50,263.69L383.50,262.73L384.50,262.73L384.50,263.68L385.50,263.68L385.50,263.15L386.50,263.15L386.50,262.60L387.50,262.60L387.50,263.79L388.50,263.79L388.50,262.90L389.50,262.90L389.50,263.99L390.50,263.99L390.50,263.42L391.50,263.42L391.50,264.01L392.50,264.01L392.50,263.40L393.50,263.40L393.50,263.94L394.50,263.94L394.50,263.88L395.50,263.88L395.50,264.40L396.50,264.40L396.50,264.44L397.50,264.44L397.50,264.39L398.50,264.39L398.50,264.43L399.50,264.43L399.50,264.50L400.50,264.50L400.50,264.52L401.50,264.52L401.50,264.40L402.50,264.40L402.50,265.49L403.50,265.49L403.50,266.24L404.50,266.24L404.50,266.48L405.50,266.48L405.50,266.43L406.50,266.43L406.50,266.00L407.50,266.00L407.50,265.61L408.50,265.61L408.50,266.35L409.50,266.35L409.50,266.44L410.50,266.44L410.50,266.47L411.50,266.47L411.50,266.52L412.50,266.52L412.50,266.08L413.50,266.08L413.50,266.18L414.50,266.18L414.50,266.47L415.50,266.47L415.50,266.68L416.50,266.68L416.50,266.69L417.50,266.69L417.50,266.69L418.50,266.69L418.50,266.73L419.50,266.73L419.50,266.74L420.50,266.74L420.50,266.76L421.50,266.76L421.50,266.74L422.50,266.74L422.50,266.79L423.50,266.79L423.50,266.77L424.50,266.77L424.50,266.78L425.50,266.78L425.50,266.76L426.50,266.76L426.50,266.79L427.50,266.79L427.50,265.76L428.50,265.76L428.50,266.80L429.50,266.80L429.50,265.78L430.50,265.78L430.50,266.81L431.50,266.81L431.50,266.83L432.50,266.83L432.50,266.85L433.50,266.85L433.50,266.85L434.50,266.85L434.50,265.84L435.50,265.84L435.50,266.86L436.50,266.86L436.50,266.87L437.50,266.87L437.50,266.87L438.50,266.87L438.50,266.89L439.50,266.89L439.50,266.91L440.50,266.91L439.60,267.10Z" fill="#000"/>
<rect x="339.50" y="254.10" width="1.2" height="13" fill="#000"/>
<rect x="339.5" y="180.5" width="100.10" height="86.60" fill="none" stroke="#000" stroke-width="1.1"/>
<line x1="338.3" y1="263.64" x2="339.5" y2="263.64" stroke="#000" stroke-width="0.8"/>
<line x1="338.3" y1="260.17" x2="339.5" y2="260.17" stroke="#000" stroke-width="0.8"/>
<line x1="338.3" y1="256.71" x2="339.5" y2="256.71" stroke="#000" stroke-width="0.8"/>
<line x1="338.3" y1="253.24" x2="339.5" y2="253.24" stroke="#000" stroke-width="0.8"/>
<line x1="337.1" y1="249.78" x2="339.5" y2="249.78" stroke="#000" stroke-width="0.8"/>
<line x1="338.3" y1="246.32" x2="339.5" y2="246.32" stroke="#000" stroke-width="0.8"/>
<line x1="338.3" y1="242.85" x2="339.5" y2="242.85" stroke="#000" stroke-width="0.8"/>
<line x1="338.3" y1="239.39" x2="339.5" y2="239.39" stroke="#000" stroke-width="0.8"/>
<line x1="338.3" y1="235.92" x2="339.5" y2="235.92" stroke="#000" stroke-width="0.8"/>
<line x1="337.1" y1="232.46" x2="339.5" y2="232.46" stroke="#000" stroke-width="0.8"/>
<line x1="338.3" y1="229.00" x2="339.5" y2="229.00" stroke="#000" stroke-width="0.8"/>
<line x1="338.3" y1="225.53" x2="339.5" y2="225.53" stroke="#000" stroke-width="0.8"/>
<line x1="338.3" y1="222.07" x2="339.5" y2="222.07" stroke="#000" stroke-width="0.8"/>
<line x1="338.3" y1="218.60" x2="339.5" y2="218.60" stroke="#000" stroke-width="0.8"/>
<line x1="337.1" y1="215.14" x2="339.5" y2="215.14" stroke="#000" stroke-width="0.8"/>
<line x1="338.3" y1="211.68" x2="339.5" y2="211.68" stroke="#000" stroke-width="0.8"/>
<line x1="338.3" y1="208.21" x2="339.5" y2="208.21" stroke="#000" stroke-width="0.8"/>
<line x1="338.3" y1="204.75" x2="339.5" y2="204.75" stroke="#000" stroke-width="0.8"/>
<line x1="338.3" y1="201.28" x2="339.5" y2="201.28" stroke="#000" stroke-width="0.8"/>
<line x1="337.1" y1="197.82" x2="339.5" y2="197.82" stroke="#000" stroke-width="0.8"/>
<line x1="338.3" y1="194.36" x2="339.5" y2="194.36" stroke="#000" stroke-width="0.8"/>
<line x1="338.3" y1="190.89" x2="339.5" y2="190.89" stroke="#000" stroke-width="0.8"/>
<line x1="338.3" y1="187.43" x2="339.5" y2="187.43" stroke="#000" stroke-width="0.8"/>
<line x1="338.3" y1="183.96" x2="339.5" y2="183.96" stroke="#000" stroke-width="0.8"/>
<text x="355.75" y="175.3" font-family="Liberation Serif, serif" font-size="14.5" textLength="63.0" lengthAdjust="spacingAndGlyphs">vif shRNA</text>
<path d="M375.5,199.1V212.1M425,199.1V212.1M375.5,205.6H425" stroke="#111" stroke-width="1" fill="none"/>
<text x="390.5" y="203.0" font-family="Liberation Serif, serif" font-size="14.5" textLength="19.5" lengthAdjust="spacingAndGlyphs">2%</text>
<text x="332.7" y="279.3" font-family="Liberation Sans, sans-serif" font-size="8.6" textLength="10.5" lengthAdjust="spacingAndGlyphs" stroke="#000" stroke-width="0.2">10</text>
<text x="343.0" y="275.90000000000003" font-family="Liberation Sans, sans-serif" font-size="5.9" stroke="#000" stroke-width="0.15">0</text>
<text x="358.02" y="279.3" font-family="Liberation Sans, sans-serif" font-size="8.6" textLength="10.5" lengthAdjust="spacingAndGlyphs" stroke="#000" stroke-width="0.2">10</text>
<text x="368.32" y="275.90000000000003" font-family="Liberation Sans, sans-serif" font-size="5.9" stroke="#000" stroke-width="0.15">1</text>
<text x="381.65" y="279.3" font-family="Liberation Sans, sans-serif" font-size="8.6" textLength="10.5" lengthAdjust="spacingAndGlyphs" stroke="#000" stroke-width="0.2">10</text>
<text x="391.95" y="275.90000000000003" font-family="Liberation Sans, sans-serif" font-size="5.9" stroke="#000" stroke-width="0.15">2</text>
<text x="406.68" y="279.3" font-family="Liberation Sans, sans-serif" font-size="8.6" textLength="10.5" lengthAdjust="spacingAndGlyphs" stroke="#000" stroke-width="0.2">10</text>
<text x="416.98" y="275.90000000000003" font-family="Liberation Sans, sans-serif" font-size="5.9" stroke="#000" stroke-width="0.15">3</text>
<text x="431.3" y="279.3" font-family="Liberation Sans, sans-serif" font-size="8.6" textLength="10.5" lengthAdjust="spacingAndGlyphs" stroke="#000" stroke-width="0.2">10</text>
<text x="441.6" y="275.90000000000003" font-family="Liberation Sans, sans-serif" font-size="5.9" stroke="#000" stroke-width="0.15">4</text>
<text x="97.6" y="190.65" font-family="Liberation Sans, sans-serif" font-size="8.2" textLength="15.6" lengthAdjust="spacingAndGlyphs" transform="rotate(-90 97.6 190.65)">100</text>
<text x="97.6" y="269.70000000000005" font-family="Liberation Sans, sans-serif" font-size="8.2" textLength="5.2" lengthAdjust="spacingAndGlyphs" transform="rotate(-90 97.6 269.70000000000005)">0</text>
<text x="82.9" y="177.2" font-family="Liberation Serif, serif" font-size="15.5" font-weight="bold" textLength="43.5" lengthAdjust="spacingAndGlyphs" transform="rotate(-90 82.9 177.2)">Counts</text>
<path d="M106,295.8H238.8M301,295.8H434.3" stroke="#222" stroke-width="1"/>
<text x="243.5" y="299" font-family="Liberation Serif, serif" font-size="14.5" textLength="54.2" lengthAdjust="spacingAndGlyphs">p24-RD1</text>
<text x="15.4" y="345" font-family="Liberation Sans, sans-serif" font-size="26.5" font-weight="bold" textLength="18.2" lengthAdjust="spacingAndGlyphs">B</text>
<rect x="65.5" y="376.2" width="452.5" height="216.3" fill="none" stroke="#808080" stroke-width="1.1"/>
<line x1="62.0" y1="592.50" x2="65.5" y2="592.50" stroke="#808080" stroke-width="1"/>
<text x="59.5" y="596.8" font-family="Liberation Serif, serif" font-size="13.2" text-anchor="end">0</text>
<line x1="62.0" y1="549.24" x2="65.5" y2="549.24" stroke="#808080" stroke-width="1"/>
<text x="59.5" y="553.54" font-family="Liberation Serif, serif" font-size="13.2" text-anchor="end">20</text>
<line x1="62.0" y1="505.98" x2="65.5" y2="505.98" stroke="#808080" stroke-width="1"/>
<text x="59.5" y="510.28" font-family="Liberation Serif, serif" font-size="13.2" text-anchor="end">40</text>
<line x1="62.0" y1="462.72" x2="65.5" y2="462.72" stroke="#808080" stroke-width="1"/>
<text x="59.5" y="467.02" font-family="Liberation Serif, serif" font-size="13.2" text-anchor="end">60</text>
<line x1="62.0" y1="419.46" x2="65.5" y2="419.46" stroke="#808080" stroke-width="1"/>
<text x="59.5" y="423.76" font-family="Liberation Serif, serif" font-size="13.2" text-anchor="end">80</text>
<line x1="62.0" y1="376.20" x2="65.5" y2="376.20" stroke="#808080" stroke-width="1"/>
<text x="59.5" y="380.5" font-family="Liberation Serif, serif" font-size="13.2" text-anchor="end">100</text>
<polyline points="93.78,384.85 122.06,382.69 150.34,384.85" fill="none" stroke="#111" stroke-width="1.1"/>
<polyline points="93.78,387.01 122.06,382.69 150.34,412.97" fill="none" stroke="#111" stroke-width="1.1"/>
<polyline points="93.78,588.17 122.06,576.06 150.34,592.50" fill="none" stroke="#111" stroke-width="1.1"/>
<path d="M93.78,381.65L96.78,387.45H90.78Z" fill="#000"/>
<path d="M122.06,379.49L125.06,385.29H119.06Z" fill="#000"/>
<path d="M150.34,381.65L153.34,387.45H147.34Z" fill="#000"/>
<rect x="90.68" y="383.91" width="6.2" height="6.2" fill="#000"/>
<rect x="118.96" y="379.59" width="6.2" height="6.2" fill="#000"/>
<rect x="147.24" y="409.87" width="6.2" height="6.2" fill="#000"/>
<path d="M93.78,585.17L96.78,588.17L93.78,591.17L90.78,588.17Z" fill="#000"/>
<path d="M122.06,573.06L125.06,576.06L122.06,579.06L119.06,576.06Z" fill="#000"/>
<path d="M150.34,589.50L153.34,592.50L150.34,595.50L147.34,592.50Z" fill="#000"/>
<polyline points="206.91,395.67 235.19,395.67 263.47,387.01" fill="none" stroke="#111" stroke-width="1.1"/>
<polyline points="206.91,415.13 235.19,417.30 263.47,417.30" fill="none" stroke="#111" stroke-width="1.1"/>
<polyline points="206.91,588.17 235.19,583.85 263.47,592.50" fill="none" stroke="#111" stroke-width="1.1"/>
<path d="M206.91,392.47L209.91,398.27H203.91Z" fill="#000"/>
<path d="M235.19,392.47L238.19,398.27H232.19Z" fill="#000"/>
<path d="M263.47,383.81L266.47,389.62H260.47Z" fill="#000"/>
<rect x="203.81" y="412.03" width="6.2" height="6.2" fill="#000"/>
<rect x="232.09" y="414.20" width="6.2" height="6.2" fill="#000"/>
<rect x="260.37" y="414.20" width="6.2" height="6.2" fill="#000"/>
<path d="M206.91,585.17L209.91,588.17L206.91,591.17L203.91,588.17Z" fill="#000"/>
<path d="M235.19,580.85L238.19,583.85L235.19,586.85L232.19,583.85Z" fill="#000"/>
<path d="M263.47,589.50L266.47,592.50L263.47,595.50L260.47,592.50Z" fill="#000"/>
<polyline points="320.03,404.32 348.31,391.34 376.59,383.77" fill="none" stroke="#111" stroke-width="1.1"/>
<polyline points="320.03,408.64 348.31,412.97 376.59,387.01" fill="none" stroke="#111" stroke-width="1.1"/>
<polyline points="320.03,590.34 348.31,583.85 376.59,590.34" fill="none" stroke="#111" stroke-width="1.1"/>
<path d="M320.03,401.12L323.03,406.92H317.03Z" fill="#000"/>
<path d="M348.31,388.14L351.31,393.94H345.31Z" fill="#000"/>
<path d="M376.59,380.57L379.59,386.37H373.59Z" fill="#000"/>
<rect x="316.93" y="405.54" width="6.2" height="6.2" fill="#000"/>
<rect x="345.21" y="409.87" width="6.2" height="6.2" fill="#000"/>
<rect x="373.49" y="383.91" width="6.2" height="6.2" fill="#000"/>
<path d="M320.03,587.34L323.03,590.34L320.03,593.34L317.03,590.34Z" fill="#000"/>
<path d="M348.31,580.85L351.31,583.85L348.31,586.85L345.31,583.85Z" fill="#000"/>
<path d="M376.59,587.34L379.59,590.34L376.59,593.34L373.59,590.34Z" fill="#000"/>
<polyline points="433.16,408.64 461.44,387.01 489.72,383.12" fill="none" stroke="#111" stroke-width="1.1"/>
<polyline points="433.16,409.73 461.44,397.83 489.72,384.85" fill="none" stroke="#111" stroke-width="1.1"/>
<polyline points="433.16,581.68 461.44,579.52 489.72,581.68" fill="none" stroke="#111" stroke-width="1.1"/>
<path d="M433.16,405.44L436.16,411.25H430.16Z" fill="#000"/>
<path d="M461.44,383.81L464.44,389.62H458.44Z" fill="#000"/>
<path d="M489.72,379.92L492.72,385.72H486.72Z" fill="#000"/>
<rect x="430.06" y="406.63" width="6.2" height="6.2" fill="#000"/>
<rect x="458.34" y="394.73" width="6.2" height="6.2" fill="#000"/>
<rect x="486.62" y="381.75" width="6.2" height="6.2" fill="#000"/>
<path d="M433.16,578.68L436.16,581.68L433.16,584.68L430.16,581.68Z" fill="#000"/>
<path d="M461.44,576.52L464.44,579.52L461.44,582.52L458.44,579.52Z" fill="#000"/>
<path d="M489.72,578.68L492.72,581.68L489.72,584.68L486.72,581.68Z" fill="#000"/>
<text x="94.78" y="606.6" font-family="Liberation Serif, serif" font-size="10.5" font-weight="bold" text-anchor="middle">5</text>
<text x="124.06" y="606.6" font-family="Liberation Serif, serif" font-size="10.5" font-weight="bold" text-anchor="middle">10</text>
<text x="151.14" y="606.6" font-family="Liberation Serif, serif" font-size="10.5" font-weight="bold" text-anchor="middle">15</text>
<text x="205.91" y="606.6" font-family="Liberation Serif, serif" font-size="10.5" font-weight="bold" text-anchor="middle">5</text>
<text x="235.69" y="606.6" font-family="Liberation Serif, serif" font-size="10.5" font-weight="bold" text-anchor="middle">10</text>
<text x="262.67" y="606.6" font-family="Liberation Serif, serif" font-size="10.5" font-weight="bold" text-anchor="middle">15</text>
<text x="320.03" y="606.6" font-family="Liberation Serif, serif" font-size="10.5" font-weight="bold" text-anchor="middle">5</text>
<text x="350.01" y="606.6" font-family="Liberation Serif, serif" font-size="10.5" font-weight="bold" text-anchor="middle">10</text>
<text x="376.89" y="606.6" font-family="Liberation Serif, serif" font-size="10.5" font-weight="bold" text-anchor="middle">15</text>
<text x="429.96" y="606.6" font-family="Liberation Serif, serif" font-size="10.5" font-weight="bold" text-anchor="middle">5</text>
<text x="459.74" y="606.6" font-family="Liberation Serif, serif" font-size="10.5" font-weight="bold" text-anchor="middle">10</text>
<text x="486.72" y="606.6" font-family="Liberation Serif, serif" font-size="10.5" font-weight="bold" text-anchor="middle">15</text>
<text x="101.25" y="370.4" font-family="Liberation Serif, serif" font-size="14" font-weight="bold" textLength="62.5" lengthAdjust="spacingAndGlyphs">MOI: 0.01</text>
<text x="220" y="370.4" font-family="Liberation Serif, serif" font-size="14" font-weight="bold" textLength="55" lengthAdjust="spacingAndGlyphs">MOI: 0.1</text>
<text x="340" y="370.4" font-family="Liberation Serif, serif" font-size="14" font-weight="bold" textLength="45" lengthAdjust="spacingAndGlyphs">MOI: 1</text>
<text x="450" y="370.4" font-family="Liberation Serif, serif" font-size="14" font-weight="bold" textLength="52" lengthAdjust="spacingAndGlyphs">MOI: 10</text>
<text x="236.7" y="626.9" font-family="Liberation Serif, serif" font-size="13.6" font-weight="bold" textLength="105.8" lengthAdjust="spacingAndGlyphs">Days post infection</text>
<text x="27.3" y="607.5" font-family="Liberation Serif, serif" font-size="14" font-weight="bold" textLength="250" lengthAdjust="spacingAndGlyphs" transform="rotate(-90 27.3 607.5)">% inhibition of p24 production by ELISA</text>
<line x1="388.5" y1="461.1" x2="413.6" y2="461.1" stroke="#111" stroke-width="1.15"/>
<path d="M402.0,457.90000000000003L405.0,461.1L402.0,464.3L399.0,461.1Z" fill="#000"/>
<text x="417.5" y="465.6" font-family="Liberation Serif, serif" font-size="14" textLength="62.5" lengthAdjust="spacingAndGlyphs">luc shRNA</text>
<line x1="388.5" y1="480.8" x2="413.6" y2="480.8" stroke="#111" stroke-width="1.15"/>
<rect x="398.1" y="476.90000000000003" width="7.8" height="7.8" fill="#000"/>
<text x="417.5" y="485.3" font-family="Liberation Serif, serif" font-size="14" textLength="65.5" lengthAdjust="spacingAndGlyphs">gag shRNA</text>
<line x1="388.5" y1="501.6" x2="413.6" y2="501.6" stroke="#111" stroke-width="1.15"/>
<path d="M402.0,498.20000000000005L405.4,504.40000000000003H398.6Z" fill="#000"/>
<text x="417.5" y="506.2" font-family="Liberation Serif, serif" font-size="14" textLength="60.5" lengthAdjust="spacingAndGlyphs">vif shRNA</text>
<text x="15.8" y="673.5" font-family="Liberation Sans, sans-serif" font-size="27" font-weight="bold">C</text>
<polyline points="57.00,882.57 57.50,883.63 58.00,882.23 58.50,883.59 59.00,883.01 59.50,882.85 60.00,882.95 60.50,883.10 61.00,882.55 61.50,882.55 62.00,882.99 62.50,882.34 63.00,882.45 63.50,882.43 64.00,881.44 64.50,881.27 65.00,882.05 65.50,881.64 66.00,881.86 66.50,882.16 67.00,882.18 67.50,881.79 68.00,882.56 68.50,882.19 69.00,881.10 69.50,881.78 70.00,881.72 70.50,881.21 71.00,881.27 71.50,881.13 72.00,881.07 72.50,882.72 73.00,881.17 73.50,881.44 74.00,880.18 74.50,881.25 75.00,880.43 75.50,879.59 76.00,879.44 76.50,879.20 77.00,878.16 77.50,878.91 78.00,878.88 78.50,877.69 79.00,877.12 79.50,876.36 80.00,876.27 80.50,875.70 81.00,875.33 81.50,873.73 82.00,874.35 82.50,872.82 83.00,871.29 83.50,870.78 84.00,868.70 84.50,867.46 85.00,867.88 85.50,864.96 86.00,866.71 86.50,863.26 87.00,862.68 87.50,861.16 88.00,861.77 88.50,859.35 89.00,859.58 89.50,857.46 90.00,858.32 90.50,851.37 91.00,853.88 91.50,850.16 92.00,849.66 92.50,843.39 93.00,840.89 93.50,836.98 94.00,833.36 94.50,835.70 95.00,834.74 95.50,831.96 96.00,826.58 96.50,828.96 97.00,825.66 97.50,825.73 98.00,821.79 98.50,816.68 99.00,813.33 99.50,814.18 100.00,815.07 100.50,814.26 101.00,814.33 101.50,808.26 102.00,813.50 102.50,805.42 103.00,809.37 103.50,805.82 104.00,803.38 104.50,805.95 105.00,791.94 105.50,794.37 106.00,801.34 106.50,794.45 107.00,787.05 107.50,793.85 108.00,793.18 108.50,795.55 109.00,797.43 109.50,796.11 110.00,789.81 110.50,794.41 111.00,793.98 111.50,799.91 112.00,801.10 112.50,807.99 113.00,797.43 113.50,810.06 114.00,801.06 114.50,812.83 115.00,814.22 115.50,814.19 116.00,812.41 116.50,818.84 117.00,815.80 117.50,820.83 118.00,824.49 118.50,827.67 119.00,830.43 119.50,832.91 120.00,835.44 120.50,830.88 121.00,838.59 121.50,840.36 122.00,841.93 122.50,840.81 123.00,843.09 123.50,843.21 124.00,845.61 124.50,848.36 125.00,848.53 125.50,853.40 126.00,853.03 126.50,855.29 127.00,853.72 127.50,855.24 128.00,856.70 128.50,857.15 129.00,857.35 129.50,860.24 130.00,858.57 130.50,859.48 131.00,863.03 131.50,861.70 132.00,862.32 132.50,862.78 133.00,862.01 133.50,864.15 134.00,864.11 134.50,862.95 135.00,863.43 135.50,862.59 136.00,865.87 136.50,864.84 137.00,865.37 137.50,866.52 138.00,865.68 138.50,865.27 139.00,865.45 139.50,865.73 140.00,864.78 140.50,866.67 141.00,866.12 141.50,865.25 142.00,867.69 142.50,866.21 143.00,866.05 143.50,867.54 144.00,867.75 144.50,865.31 145.00,867.06 145.50,867.41 146.00,867.91 146.50,868.18 147.00,865.75 147.50,867.86 148.00,868.06 148.50,868.30 149.00,869.54 149.50,866.93 150.00,866.32 150.50,867.75 151.00,867.86 151.50,869.91 152.00,869.50 152.50,869.09 153.00,870.14 153.50,870.06 154.00,872.15 154.50,872.04 155.00,872.01 155.50,872.35 156.00,873.90 156.50,873.94 157.00,874.78 157.50,874.24 158.00,875.17 158.50,875.74 159.00,876.37 159.50,876.36 160.00,877.34 160.50,878.23 161.00,878.14 161.50,877.97 162.00,878.34 162.50,878.79 163.00,877.93 163.50,879.67 164.00,879.89 164.50,879.08 165.00,879.49 165.50,880.43 166.00,881.34 166.50,879.79 167.00,881.34 167.50,880.66 168.00,880.36 168.50,881.22 169.00,880.98 169.50,882.11 170.00,882.26 170.50,881.60 171.00,882.73 171.50,882.05 172.00,882.79 172.50,881.84 173.00,882.41 173.50,882.55 174.00,882.72 174.50,882.04 175.00,882.54 175.50,881.76 176.00,882.01 176.50,882.44 177.00,882.59 177.50,883.30 178.00,882.08 178.50,883.03 179.00,883.68 179.50,882.91 180.00,883.24 180.50,883.72 181.00,882.83 181.50,883.75 182.00,883.04 182.50,882.29 183.00,883.04 183.50,883.10 184.00,883.55 184.50,882.85 185.00,882.39 185.50,882.81 186.00,883.04 186.50,882.93 187.00,883.75 187.50,882.96 188.00,883.27 188.50,882.77 189.00,882.46 189.50,883.28 190.00,882.54 190.50,883.02 191.00,883.70 191.50,883.36 192.00,883.19 192.50,882.26 193.00,882.59 193.50,883.09 194.00,883.75 194.50,883.42 195.00,883.34 195.50,883.41 196.00,883.75 196.50,882.87 197.00,883.75 197.50,882.73 198.00,883.12 198.50,883.03 199.00,883.75 199.50,882.93 200.00,882.79 200.50,883.18 201.00,882.62 201.50,882.99 202.00,883.73 202.50,883.50 203.00,882.75 203.50,882.90 204.00,882.28 204.50,883.19 205.00,883.25 205.50,883.65 206.00,883.66 206.50,883.75 207.00,883.75 207.50,883.07 208.00,883.75 208.50,883.75 209.00,882.45 209.50,883.59 210.00,883.75 210.50,883.75 211.00,883.62 211.50,883.37 212.00,882.48 212.50,882.94 213.00,883.68 213.50,882.51 214.00,883.75 214.50,883.75 215.00,883.75 215.50,883.46 216.00,883.75 216.50,883.53 217.00,883.12 217.50,883.17 218.00,883.25 218.50,883.41 219.00,883.21 219.50,883.20 220.00,883.04 220.50,882.92 221.00,883.75 221.50,882.96 222.00,883.44" fill="none" stroke="#222" stroke-width="0.8"/>
<polyline points="25.00,883.30 25.50,882.92 26.00,882.99 26.50,883.60 27.00,883.44 27.50,883.31 28.00,883.75 28.50,883.75 29.00,883.33 29.50,883.61 30.00,882.86 30.50,883.67 31.00,883.43 31.50,883.24 32.00,883.74 32.50,881.81 33.00,882.23 33.50,883.18 34.00,882.21 34.50,883.20 35.00,882.66 35.50,882.55 36.00,882.81 36.50,882.33 37.00,882.82 37.50,882.09 38.00,881.82 38.50,882.52 39.00,882.80 39.50,881.14 40.00,881.59 40.50,881.25 41.00,881.80 41.50,881.38 42.00,881.46 42.50,881.26 43.00,880.46 43.50,880.46 44.00,880.63 44.50,880.30 45.00,879.83 45.50,878.95 46.00,879.08 46.50,878.88 47.00,878.24 47.50,877.31 48.00,876.98 48.50,876.71 49.00,876.40 49.50,875.87 50.00,873.63 50.50,873.45 51.00,871.07 51.50,870.77 52.00,868.36 52.50,867.84 53.00,865.87 53.50,864.54 54.00,862.23 54.50,860.39 55.00,857.39 55.50,854.23 56.00,850.94 56.50,848.23 57.00,843.65 57.50,840.86 58.00,836.65 58.50,830.70 59.00,825.75 59.50,820.99 60.00,813.43 60.50,806.48 61.00,802.40 61.50,795.70 62.00,788.49 62.50,786.62 63.00,773.96 63.50,768.94 64.00,762.68 64.50,754.14 65.00,750.26 65.50,738.89 66.00,734.03 66.50,734.75 67.00,729.45 67.50,723.90 68.00,719.53 68.50,721.98 69.00,715.91 69.50,722.77 70.00,718.81 70.50,722.03 71.00,723.00 71.50,729.28 72.00,741.08 72.50,736.41 73.00,743.87 73.50,757.76 74.00,755.01 74.50,771.76 75.00,777.50 75.50,785.00 76.00,798.94 76.50,801.87 77.00,813.32 77.50,819.29 78.00,824.58 78.50,831.89 79.00,840.00 79.50,844.76 80.00,848.46 80.50,854.98 81.00,859.17 81.50,863.24 82.00,865.64 82.50,869.17 83.00,871.95 83.50,874.39 84.00,875.47 84.50,876.36 85.00,878.34 85.50,878.94 86.00,879.85 86.50,880.10 87.00,881.53 87.50,881.72 88.00,882.12 88.50,881.97 89.00,882.90 89.50,882.60 90.00,882.62 90.50,883.66 91.00,882.74 91.50,883.08 92.00,882.68 92.50,883.52 93.00,883.09 93.50,883.29 94.00,883.53 94.50,882.88 95.00,883.75 95.50,882.82 96.00,883.36 96.50,882.64 97.00,883.59 97.50,882.24 98.00,883.60 98.50,883.41 99.00,883.56 99.50,882.61 100.00,882.55 100.50,882.27 101.00,883.43 101.50,883.12 102.00,883.40 102.50,883.52 103.00,883.51 103.50,883.75 104.00,882.99 104.50,882.74 105.00,883.18 105.50,882.94 106.00,882.24 106.50,883.27 107.00,882.96 107.50,883.21 108.00,882.94 108.50,882.71 109.00,883.03 109.50,883.42 110.00,882.35" fill="none" stroke="#111" stroke-width="1.1" stroke-dasharray="1.1,1.1"/>
<polyline points="24.50,883.66 25.00,883.27 25.50,883.44 26.00,883.19 26.50,882.62 27.00,882.59 27.50,883.09 28.00,883.64 28.50,883.21 29.00,882.98 29.50,883.75 30.00,883.70 30.50,883.16 31.00,883.56 31.50,883.42 32.00,882.87 32.50,882.95 33.00,883.34 33.50,883.27 34.00,882.59 34.50,883.26 35.00,882.78 35.50,882.80 36.00,883.32 36.50,882.43 37.00,882.38 37.50,883.36 38.00,882.45 38.50,883.38 39.00,882.87 39.50,882.86 40.00,883.13 40.50,881.07 41.00,881.98 41.50,881.87 42.00,883.25 42.50,882.92 43.00,882.17 43.50,881.95 44.00,881.33 44.50,880.91 45.00,880.86 45.50,880.97 46.00,880.14 46.50,880.20 47.00,880.20 47.50,878.91 48.00,879.27 48.50,877.92 49.00,879.06 49.50,878.24 50.00,878.15 50.50,876.93 51.00,875.47 51.50,875.77 52.00,875.08 52.50,872.74 53.00,872.09 53.50,871.56 54.00,870.04 54.50,869.39 55.00,866.48 55.50,865.82 56.00,863.55 56.50,861.43 57.00,857.38 57.50,855.26 58.00,852.48 58.50,850.32 59.00,847.45 59.50,843.76 60.00,840.02 60.50,833.75 61.00,826.22 61.50,823.26 62.00,818.83 62.50,814.18 63.00,807.11 63.50,801.09 64.00,795.05 64.50,791.27 65.00,784.54 65.50,774.70 66.00,766.87 66.50,762.25 67.00,758.64 67.50,755.46 68.00,758.57 68.50,748.60 69.00,739.56 69.50,736.84 70.00,746.89 70.50,753.61 71.00,734.37 71.50,725.84 72.00,735.39 72.50,733.49 73.00,732.11 73.50,734.49 74.00,743.66 74.50,746.47 75.00,753.55 75.50,768.84 76.00,776.46 76.50,778.46 77.00,789.25 77.50,794.25 78.00,802.27 78.50,811.72 79.00,819.77 79.50,824.33 80.00,832.23 80.50,839.01 81.00,843.37 81.50,846.52 82.00,852.74 82.50,858.65 83.00,861.07 83.50,866.07 84.00,868.40 84.50,870.62 85.00,872.46 85.50,875.16 86.00,876.21 86.50,877.02 87.00,878.68 87.50,880.15 88.00,880.39 88.50,881.39 89.00,882.26 89.50,881.85 90.00,882.08 90.50,882.78 91.00,882.46 91.50,882.58 92.00,882.92 92.50,883.64 93.00,882.67 93.50,883.14 94.00,883.39 94.50,883.16 95.00,882.85 95.50,882.53 96.00,882.49 96.50,883.75 97.00,883.21 97.50,882.03 98.00,882.74 98.50,883.14 99.00,883.55 99.50,883.17 100.00,883.75 100.50,883.31 101.00,883.75 101.50,883.37 102.00,883.74 102.50,882.53 103.00,883.05 103.50,883.75 104.00,883.32 104.50,883.19 105.00,883.75 105.50,883.75 106.00,882.37 106.50,883.34 107.00,883.43 107.50,882.97 108.00,883.39 108.50,883.15 109.00,883.75 109.50,883.44 110.00,883.75 110.50,882.45 111.00,882.64 111.50,883.27 112.00,882.67 112.50,882.92 113.00,883.75 113.50,883.44 114.00,883.75 114.50,882.93 115.00,883.75 115.50,883.51 116.00,883.22 116.50,883.26 117.00,883.75 117.50,883.75 118.00,882.48" fill="none" stroke="#000" stroke-width="1.7"/>
<polyline points="118.00,883.75 118.50,881.49 119.00,882.44 119.50,882.66 120.00,882.49 120.50,883.75 121.00,882.83 121.50,883.16 122.00,883.34 122.50,883.69 123.00,882.00 123.50,882.69 124.00,883.39 124.50,882.78 125.00,883.29 125.50,883.75 126.00,882.20 126.50,883.05 127.00,883.75 127.50,883.75 128.00,883.44 128.50,883.75 129.00,882.81 129.50,882.91 130.00,883.09 130.50,883.18 131.00,883.28 131.50,883.75 132.00,882.44 132.50,882.44 133.00,883.56 133.50,883.63 134.00,883.01 134.50,882.83 135.00,883.41 135.50,883.41 136.00,883.03 136.50,883.04 137.00,882.91 137.50,882.74 138.00,883.75 138.50,883.33 139.00,882.90 139.50,882.73 140.00,882.72 140.50,883.61 141.00,883.22 141.50,882.53 142.00,883.64 142.50,883.75 143.00,882.66 143.50,883.59 144.00,883.65 144.50,883.06 145.00,882.75 145.50,883.64 146.00,883.34 146.50,883.06 147.00,882.83 147.50,882.73 148.00,883.45 148.50,882.77 149.00,883.37 149.50,882.89 150.00,883.16 150.50,883.70 151.00,883.52 151.50,883.62 152.00,883.58 152.50,883.17 153.00,883.54 153.50,882.88 154.00,882.15 154.50,882.17 155.00,882.46 155.50,882.72 156.00,883.75 156.50,883.26 157.00,882.97 157.50,881.77 158.00,883.39 158.50,882.46 159.00,883.42 159.50,883.05 160.00,883.75 160.50,882.79 161.00,882.46 161.50,883.52 162.00,882.83 162.50,883.34 163.00,883.27 163.50,883.65 164.00,883.33 164.50,882.23 165.00,883.30 165.50,882.97 166.00,882.80 166.50,882.74 167.00,883.31 167.50,882.75 168.00,883.32 168.50,882.33 169.00,883.71 169.50,882.90 170.00,883.75 170.50,882.88 171.00,882.50 171.50,883.53 172.00,883.68 172.50,882.63 173.00,882.87 173.50,882.30 174.00,882.60 174.50,883.27 175.00,883.15 175.50,883.21 176.00,883.27 176.50,883.56 177.00,883.53 177.50,882.72 178.00,882.67 178.50,882.52 179.00,883.75 179.50,882.85 180.00,882.56 180.50,882.58 181.00,883.03 181.50,883.27 182.00,883.03 182.50,883.48 183.00,883.66 183.50,883.19 184.00,882.42 184.50,883.38 185.00,883.31 185.50,883.75 186.00,883.75 186.50,883.30 187.00,882.45 187.50,883.75 188.00,882.93 188.50,883.60 189.00,881.90 189.50,882.01 190.00,883.75 190.50,883.48 191.00,882.16 191.50,882.94 192.00,883.75 192.50,883.75 193.00,882.37 193.50,882.55 194.00,883.41 194.50,883.09 195.00,882.57 195.50,882.89 196.00,882.96 196.50,883.75 197.00,883.42 197.50,882.95 198.00,883.75 198.50,883.42 199.00,883.55 199.50,883.06 200.00,883.75 200.50,883.19 201.00,883.33 201.50,882.36 202.00,883.48 202.50,882.97 203.00,882.81 203.50,883.18 204.00,883.07 204.50,882.62 205.00,883.63 205.50,883.75 206.00,883.25 206.50,882.41 207.00,883.75 207.50,882.21 208.00,883.49 208.50,882.81 209.00,883.26 209.50,883.75 210.00,883.61 210.50,881.99 211.00,883.73 211.50,883.32 212.00,883.75 212.50,882.43 213.00,883.41 213.50,883.06 214.00,883.75 214.50,882.35 215.00,882.73 215.50,883.15 216.00,882.54 216.50,882.99 217.00,883.55 217.50,883.36 218.00,883.70 218.50,883.36 219.00,882.35 219.50,883.43 220.00,882.61 220.50,882.58 221.00,883.31 221.50,882.07 222.00,883.49" fill="none" stroke="#000" stroke-width="0.9"/>
<rect x="23.75" y="685.2" width="199.55" height="198.54999999999995" fill="none" stroke="#111" stroke-width="1.1"/>
<line x1="23.75" y1="875.81" x2="25.55" y2="875.81" stroke="#333" stroke-width="0.7"/>
<line x1="23.75" y1="867.87" x2="25.55" y2="867.87" stroke="#333" stroke-width="0.7"/>
<line x1="23.75" y1="859.92" x2="25.55" y2="859.92" stroke="#333" stroke-width="0.7"/>
<line x1="23.75" y1="851.98" x2="25.55" y2="851.98" stroke="#333" stroke-width="0.7"/>
<line x1="23.75" y1="844.04" x2="26.95" y2="844.04" stroke="#333" stroke-width="0.7"/>
<line x1="23.75" y1="836.10" x2="25.55" y2="836.10" stroke="#333" stroke-width="0.7"/>
<line x1="23.75" y1="828.16" x2="25.55" y2="828.16" stroke="#333" stroke-width="0.7"/>
<line x1="23.75" y1="820.21" x2="25.55" y2="820.21" stroke="#333" stroke-width="0.7"/>
<line x1="23.75" y1="812.27" x2="25.55" y2="812.27" stroke="#333" stroke-width="0.7"/>
<line x1="23.75" y1="804.33" x2="26.95" y2="804.33" stroke="#333" stroke-width="0.7"/>
<line x1="23.75" y1="796.39" x2="25.55" y2="796.39" stroke="#333" stroke-width="0.7"/>
<line x1="23.75" y1="788.45" x2="25.55" y2="788.45" stroke="#333" stroke-width="0.7"/>
<line x1="23.75" y1="780.50" x2="25.55" y2="780.50" stroke="#333" stroke-width="0.7"/>
<line x1="23.75" y1="772.56" x2="25.55" y2="772.56" stroke="#333" stroke-width="0.7"/>
<line x1="23.75" y1="764.62" x2="26.95" y2="764.62" stroke="#333" stroke-width="0.7"/>
<line x1="23.75" y1="756.68" x2="25.55" y2="756.68" stroke="#333" stroke-width="0.7"/>
<line x1="23.75" y1="748.74" x2="25.55" y2="748.74" stroke="#333" stroke-width="0.7"/>
<line x1="23.75" y1="740.79" x2="25.55" y2="740.79" stroke="#333" stroke-width="0.7"/>
<line x1="23.75" y1="732.85" x2="25.55" y2="732.85" stroke="#333" stroke-width="0.7"/>
<line x1="23.75" y1="724.91" x2="26.95" y2="724.91" stroke="#333" stroke-width="0.7"/>
<line x1="23.75" y1="716.97" x2="25.55" y2="716.97" stroke="#333" stroke-width="0.7"/>
<line x1="23.75" y1="709.03" x2="25.55" y2="709.03" stroke="#333" stroke-width="0.7"/>
<line x1="23.75" y1="701.08" x2="25.55" y2="701.08" stroke="#333" stroke-width="0.7"/>
<line x1="23.75" y1="693.14" x2="25.55" y2="693.14" stroke="#333" stroke-width="0.7"/>
<text x="16.35" y="894.25" font-family="Liberation Sans, sans-serif" font-size="7.8" fill="#111">10</text>
<text x="24.25" y="890.95" font-family="Liberation Sans, sans-serif" font-size="5.6" fill="#111">0</text>
<text x="66.24" y="894.25" font-family="Liberation Sans, sans-serif" font-size="7.8" fill="#111">10</text>
<text x="74.14" y="890.95" font-family="Liberation Sans, sans-serif" font-size="5.6" fill="#111">1</text>
<path d="M73.64,883.75l-1.6,-3.2h3.2z" fill="#000"/>
<text x="116.12" y="894.25" font-family="Liberation Sans, sans-serif" font-size="7.8" fill="#111">10</text>
<text x="124.03" y="890.95" font-family="Liberation Sans, sans-serif" font-size="5.6" fill="#111">2</text>
<path d="M123.53,883.75l-1.6,-3.2h3.2z" fill="#000"/>
<text x="166.01" y="894.25" font-family="Liberation Sans, sans-serif" font-size="7.8" fill="#111">10</text>
<text x="173.91" y="890.95" font-family="Liberation Sans, sans-serif" font-size="5.6" fill="#111">3</text>
<path d="M173.41,883.75l-1.6,-3.2h3.2z" fill="#000"/>
<text x="215.9" y="894.25" font-family="Liberation Sans, sans-serif" font-size="7.8" fill="#111">10</text>
<text x="223.8" y="890.95" font-family="Liberation Sans, sans-serif" font-size="5.6" fill="#111">4</text>
<path d="M83.75,749.8V759.8M202.5,749.8V759.8M83.75,754.8H202.5" stroke="#333" stroke-width="1.1" fill="none"/>
<text x="122.5" y="748" font-family="Liberation Serif, serif" font-size="16" font-weight="bold" textLength="32.5" lengthAdjust="spacingAndGlyphs">98%</text>
<text x="13.2" y="812" font-family="Liberation Serif, serif" font-size="14" font-weight="bold" textLength="43" lengthAdjust="spacingAndGlyphs" transform="rotate(-90 13.2 812)">Counts</text>
<text x="93.2" y="913" font-family="Liberation Serif, serif" font-size="14.5" font-weight="bold" textLength="56.2" lengthAdjust="spacingAndGlyphs">p24-RD1</text>
<rect x="294.5" y="685.3" width="221.80" height="199.20" fill="none" stroke="#a8a8a8" stroke-width="1"/>
<line x1="294.5" y1="685.3" x2="294.5" y2="884.5" stroke="#808080" stroke-width="1"/>
<line x1="294.5" y1="884.5" x2="516.3" y2="884.5" stroke="#808080" stroke-width="1"/>
<line x1="291.0" y1="884.50" x2="294.5" y2="884.50" stroke="#808080" stroke-width="1"/>
<text x="288" y="889.6" font-family="Liberation Sans, sans-serif" font-size="12.5" text-anchor="end" textLength="7.6" lengthAdjust="spacingAndGlyphs">0</text>
<line x1="291.0" y1="844.66" x2="294.5" y2="844.66" stroke="#808080" stroke-width="1"/>
<text x="288" y="849.76" font-family="Liberation Sans, sans-serif" font-size="12.5" text-anchor="end" textLength="15.2" lengthAdjust="spacingAndGlyphs">20</text>
<line x1="291.0" y1="804.82" x2="294.5" y2="804.82" stroke="#808080" stroke-width="1"/>
<text x="288" y="809.92" font-family="Liberation Sans, sans-serif" font-size="12.5" text-anchor="end" textLength="15.2" lengthAdjust="spacingAndGlyphs">40</text>
<line x1="291.0" y1="764.98" x2="294.5" y2="764.98" stroke="#808080" stroke-width="1"/>
<text x="288" y="770.08" font-family="Liberation Sans, sans-serif" font-size="12.5" text-anchor="end" textLength="15.2" lengthAdjust="spacingAndGlyphs">60</text>
<line x1="291.0" y1="725.14" x2="294.5" y2="725.14" stroke="#808080" stroke-width="1"/>
<text x="288" y="730.24" font-family="Liberation Sans, sans-serif" font-size="12.5" text-anchor="end" textLength="15.2" lengthAdjust="spacingAndGlyphs">80</text>
<line x1="291.0" y1="685.30" x2="294.5" y2="685.30" stroke="#808080" stroke-width="1"/>
<text x="288" y="690.4" font-family="Liberation Sans, sans-serif" font-size="12.5" text-anchor="end" textLength="22.8" lengthAdjust="spacingAndGlyphs">100</text>
<path d="M320.62,865.78V859.60M319.02,859.60H322.23" stroke="#333" stroke-width="0.9" fill="none"/>
<rect x="311.25" y="865.78" width="19.25" height="18.72" fill="#fff" stroke="#3a3a3a" stroke-width="0.9"/>
<path d="M341.50,882.91V879.32M339.90,879.32H343.10" stroke="#333" stroke-width="0.9" fill="none"/>
<rect x="330.50" y="882.91" width="22.00" height="1.59" fill="#000"/>
<path d="M395.05,879.52V877.53M393.45,877.53H396.65" stroke="#333" stroke-width="0.9" fill="none"/>
<rect x="385.10" y="879.52" width="20.40" height="4.98" fill="#fff" stroke="#3a3a3a" stroke-width="0.9"/>
<path d="M416.30,733.31V721.36M414.70,721.36H417.90" stroke="#333" stroke-width="0.9" fill="none"/>
<rect x="405.80" y="733.31" width="21.00" height="151.19" fill="#000"/>
<path d="M469.50,868.17V865.78M467.90,865.78H471.10" stroke="#333" stroke-width="0.9" fill="none"/>
<rect x="459.50" y="868.17" width="20.50" height="16.33" fill="#fff" stroke="#3a3a3a" stroke-width="0.9"/>
<path d="M490.95,781.12V774.94M489.35,774.94H492.55" stroke="#333" stroke-width="0.9" fill="none"/>
<rect x="480.40" y="781.12" width="21.10" height="103.38" fill="#000"/>
<rect x="309.2" y="698.8" width="6.6" height="6.6" fill="#fff" stroke="#666" stroke-width="1"/>
<rect x="308.7" y="715.2" width="7.4" height="7.4" fill="#000"/>
<text x="318.2" y="706.3" font-family="Liberation Sans, sans-serif" font-size="12.2" textLength="31.3" lengthAdjust="spacingAndGlyphs" fill="#111">GFP-</text>
<text x="318.2" y="723" font-family="Liberation Sans, sans-serif" font-size="12.2" textLength="33.5" lengthAdjust="spacingAndGlyphs" fill="#111">GFP+</text>
<text x="296.5" y="908.4" font-family="Liberation Serif, serif" font-size="14.2" font-weight="bold" textLength="66.5" lengthAdjust="spacingAndGlyphs">luc shRNA</text>
<text x="374.2" y="908.4" font-family="Liberation Serif, serif" font-size="14.2" font-weight="bold" textLength="69.5" lengthAdjust="spacingAndGlyphs">gag shRNA</text>
<text x="453.5" y="908.4" font-family="Liberation Serif, serif" font-size="14.2" font-weight="bold" textLength="64" lengthAdjust="spacingAndGlyphs">vif shRNA</text>
<text x="256.8" y="886.3" font-family="Liberation Serif, serif" font-size="14" font-weight="bold" textLength="199" lengthAdjust="spacingAndGlyphs" transform="rotate(-90 256.8 886.3)">% inhibition of p24 expression</text>
</svg>
</body></html>
